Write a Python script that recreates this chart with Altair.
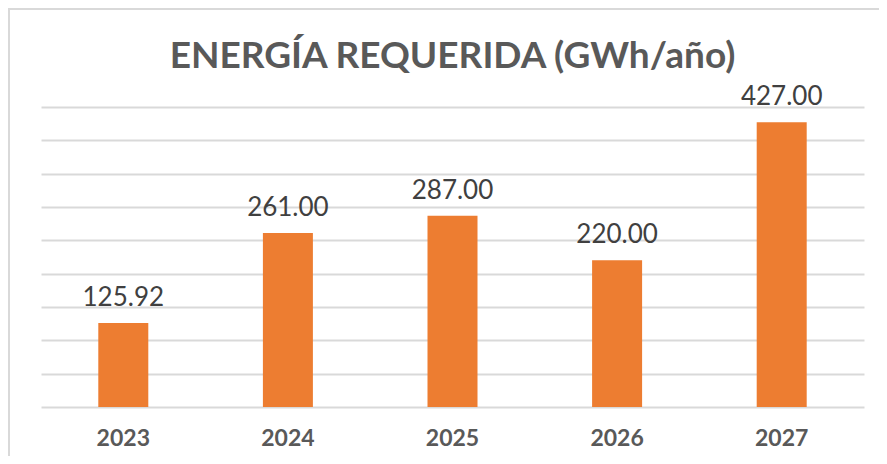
import altair as alt
import pandas as pd

years = ["2023", "2024", "2025", "2026", "2027"]
values = [125.92, 261.00, 287.00, 220.00, 427.00]
title_text = "ENERGÍA REQUERIDA (GWh/año)"

df = pd.DataFrame({"year": years, "value": values})

W, H = 823, 300
FONT = "Lato"

base = alt.Chart(df).encode(
    x=alt.X("year:N", sort=years, title=None,
            scale=alt.Scale(paddingInner=0.0, paddingOuter=0.0),
            axis=alt.Axis(labelAngle=0, labelFont=FONT, labelFontSize=23,
                          labelFontWeight="bold", labelColor="#595959",
                          labelPadding=20, domain=False, ticks=False, grid=False)),
    y=alt.Y("value:Q", title=None,
            scale=alt.Scale(domain=[0, 450], nice=False),
            axis=alt.Axis(values=list(range(0, 451, 50)), labels=False, ticks=False,
                          domain=False, grid=True, gridColor="#D9D9D9", gridWidth=2)),
)

bars = base.mark_bar(color="#ED7D31", size=50)

labels = base.mark_text(font=FONT, fontSize=26, color="#404040",
                        baseline="alphabetic", dy=-17).encode(
    text=alt.Text("value:Q", format=".2f"),
)

one = alt.Chart(pd.DataFrame({"t": [title_text]}))

border = one.mark_rect(fill=None, stroke="#D9D9D9", strokeWidth=2).encode(
    x=alt.value(-32), x2=alt.value(W + 60),
    y=alt.value(-98), y2=alt.value(H + 100),
)

title = one.mark_text(font=FONT, fontSize=37, fontWeight="bold", color="#595959",
                      align="center", baseline="alphabetic").encode(
    x=alt.value(W / 2), y=alt.value(-39), text="t:N",
)

chart = alt.layer(border, bars, labels, title).properties(
    width=W, height=H,
    autosize=alt.AutoSizeParams(type="none"),
    padding={"left": 33, "right": 15, "top": 99, "bottom": 49},
).configure_view(stroke=None)

chart.save("out.html", embed_options={"renderer": "svg", "actions": False})
